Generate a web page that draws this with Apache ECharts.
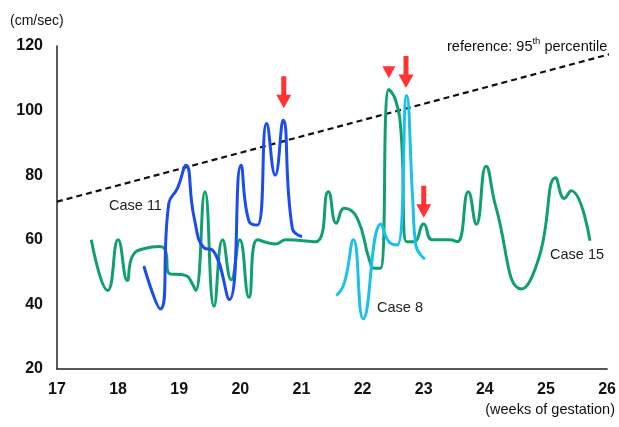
<!DOCTYPE html>
<html>
<head>
<meta charset="utf-8">
<script src="https://cdn.jsdelivr.net/npm/echarts@6/dist/echarts.min.js"></script>
<style>
  html, body { margin: 0; padding: 0; background: #fff; }
  #chart { width: 619px; height: 427px; }
</style>
</head>
<body>
<div id="chart"></div>
<script>
// Peak systolic velocity (cm/sec) by gestational age (weeks)
const xTicks = [17, 18, 19, 20, 21, 22, 23, 24, 25, 26];
const yTicks = [20, 40, 60, 80, 100, 120];

const case15Weeks = [17.56, 17.83, 18.00, 18.15, 18.23, 18.45, 18.67, 18.77, 18.83, 19.11, 19.21, 19.27,
  19.42, 19.57, 19.71, 19.85, 19.99, 20.14, 20.28, 20.58, 20.74, 21.23, 21.44, 21.57, 21.70, 21.91,
  22.11, 22.19, 22.29, 22.43, 22.54, 22.63, 22.72, 22.84, 23.00, 23.14, 23.42, 23.55, 23.73, 23.86,
  24.02, 24.18, 24.60, 24.89, 25.16, 25.30, 25.41, 25.72];
const case15Values = [60.0, 44.3, 60.0, 47.4, 54.8, 57.4, 57.9, 56.9, 49.7, 48.9, 46.5, 44.3,
  74.9, 39.4, 60.0, 47.6, 60.0, 42.2, 60.0, 58.7, 60.0, 59.4, 74.9, 65.1, 69.8, 66.8,
  53.8, 51.2, 51.2, 106.5, 103.2, 93.0, 59.4, 59.4, 64.9, 60.0, 60.0, 59.4, 74.9, 64.8,
  82.8, 70.2, 44.8, 54.8, 79.2, 72.8, 75.2, 59.7];

const case11Weeks = [18.42, 18.69, 18.83, 18.97, 19.11, 19.24, 19.41, 19.54, 19.82, 20.01, 20.14,
  20.28, 20.43, 20.57, 20.70, 20.85, 21.01];
const case11Values = [51.9, 38.6, 71.3, 75.9, 83.1, 67.2, 57.4, 56.9, 41.5, 83.1, 65.8,
  64.6, 96.0, 80.0, 97.0, 63.6, 61.0];

const case8Weeks = [21.57, 21.70, 21.85, 22.01, 22.30, 22.43, 22.57, 22.72, 22.82, 22.87, 23.02];
const case8Values = [42.7, 46.6, 60.0, 35.5, 64.9, 59.4, 58.4, 104.7, 72.3, 58.4, 54.0];

// 95th percentile reference line endpoints
const refWeeks = [17, 26.05];
const refValues = [71.8, 117.5];

// Arrow tips (down arrows) and the single triangle marker
const arrowWeeks = [20.71, 22.71, 23.00];
const arrowValues = [100.7, 107.0, 66.8];
const triangleWeeks = [22.43];
const triangleValues = [110.0];

const pairs = (xs, ys) => xs.map((x, i) => [x, ys[i]]);

const GREEN = '#10A070';
const BLUE = '#1C4CF0';
const CYAN = '#1CC0EE';
const FONT = 'Arial, "Liberation Sans", sans-serif';

const chart = echarts.init(document.getElementById('chart'), null, { renderer: 'canvas' });

const curve = (name, color, data) => ({
  name, type: 'line', data, smooth: 0.5,
  showSymbol: false, symbol: 'none',
  lineStyle: { color, width: 3 }, z: 3
});

chart.setOption({
  animation: false,
  grid: { left: 57, right: 10, top: 46, bottom: 58 },
  xAxis: {
    type: 'value', min: 17, max: 26, interval: 1,
    axisLine: { show: true, lineStyle: { color: '#222', width: 1.5 } },
    axisTick: { show: false },
    splitLine: { show: false },
    axisLabel: {
      margin: 13, color: '#111', fontSize: 16, fontWeight: 'bold', fontFamily: FONT,
      formatter: v => (xTicks.includes(v) ? String(v) : '')
    }
  },
  yAxis: {
    type: 'value', min: 20, max: 120, interval: 20,
    axisLine: { show: true, lineStyle: { color: '#222', width: 1.5 } },
    axisTick: { show: false },
    splitLine: { show: false },
    axisLabel: {
      margin: 14, color: '#111', fontSize: 16, fontWeight: 'bold', fontFamily: FONT,
      formatter: v => (yTicks.includes(v) ? String(v) : '')
    }
  },
  series: [
    {
      name: 'reference', type: 'line', data: pairs(refWeeks, refValues),
      showSymbol: false, symbol: 'none', clip: false,
      lineStyle: { color: '#111', width: 2.2, type: [6, 4] }, z: 2
    },
    curve('Case 15', GREEN, pairs(case15Weeks, case15Values)),
    curve('Case 11', BLUE, pairs(case11Weeks, case11Values)),
    curve('Case 8', CYAN, pairs(case8Weeks, case8Values)),
    {
      name: 'arrows', type: 'scatter', data: pairs(arrowWeeks, arrowValues),
      symbol: 'path://M4,0 L9,0 L9,19 L14,19 L6.5,33 L-1,19 L4,19 Z',
      symbolSize: [15, 32], symbolOffset: [0, '-50%'],
      itemStyle: { color: '#FF0000' }, z: 5, clip: false
    },
    {
      name: 'triangle', type: 'scatter', data: pairs(triangleWeeks, triangleValues),
      symbol: 'path://M0,0 L13,0 L6.5,12 Z',
      symbolSize: [13, 12], symbolOffset: [0, '-50%'],
      itemStyle: { color: '#FF0000' }, z: 5, clip: false
    }
  ],
  graphic: [
    { type: 'text', left: 10, top: 14,
      style: { text: '(cm/sec)', fill: '#111', font: '14px ' + FONT } },
    { type: 'text', right: 4, top: 402,
      style: { text: '(weeks of gestation)', fill: '#111', font: '14.5px ' + FONT } },
    { type: 'text', left: 109, top: 198,
      style: { text: 'Case 11', fill: '#222', font: '14.5px ' + FONT } },
    { type: 'text', left: 377, top: 300,
      style: { text: 'Case 8', fill: '#222', font: '14.5px ' + FONT } },
    { type: 'text', left: 550, top: 247,
      style: { text: 'Case 15', fill: '#222', font: '14.5px ' + FONT } },
    { type: 'text', left: 447, top: 36,
      style: {
        text: '{a|reference: 95}{s|th}{a| percentile}',
        rich: {
          a: { fontSize: 14.5, fontFamily: FONT, fill: '#111', color: '#111', verticalAlign: 'bottom', lineHeight: 18 },
          s: { fontSize: 9.5, fontFamily: FONT, fill: '#111', color: '#111', verticalAlign: 'top', lineHeight: 18, padding: [0, 0, 6, 0] }
        }
      } }
  ]
});
</script>
</body>
</html>
